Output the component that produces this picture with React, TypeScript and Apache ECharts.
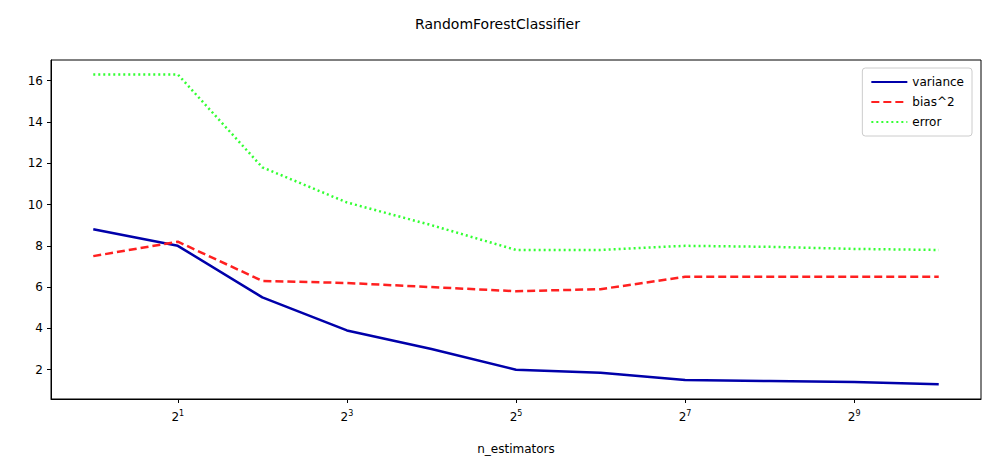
import React, { useEffect, useRef } from 'react';
import * as echarts from 'echarts';

const exponents = [0, 1, 2, 3, 4, 5, 6, 7, 8, 9, 10];
const variance = [8.8, 8.0, 5.5, 3.9, 3.0, 2.0, 1.85, 1.5, 1.45, 1.4, 1.3];
const bias2 = [7.5, 8.2, 6.3, 6.2, 6.0, 5.8, 5.9, 6.5, 6.5, 6.5, 6.5];
const errorVals = [16.3, 16.3, 11.8, 10.1, 9.0, 7.8, 7.8, 8.0, 7.95, 7.85, 7.8];
const xTicks = [1, 3, 5, 7, 9];
const yTicks = [2, 4, 6, 8, 10, 12, 14, 16];

const font = 'DejaVu Sans';

const App: React.FC = () => {
  const chartRef = useRef<HTMLDivElement>(null);

  useEffect(() => {
    if (!chartRef.current) return;
    const chart = echarts.init(chartRef.current, undefined, { renderer: 'svg' });

    const mk = (name: string, data: number[], color: string, type: any) => ({
      name,
      type: 'line',
      symbol: 'none',
      data: exponents.map((e, i) => [e, data[i]]),
      lineStyle: { color, width: 2.5, type },
      itemStyle: { color },
    });

    chart.setOption({
      animation: false,
      textStyle: { fontFamily: font },
      title: {
        text: 'RandomForestClassifier',
        left: 'center',
        top: 12,
        textStyle: { fontFamily: font, fontSize: 14, fontWeight: 'normal', color: '#000' },
      },
      legend: {
        orient: 'vertical',
        right: 23,
        top: 68,
        itemWidth: 36,
        itemGap: 8,
        padding: [8, 8, 8, 8],
        borderColor: '#ccc',
        borderWidth: 1,
        borderRadius: 3,
        itemStyle: { opacity: 0 },
        textStyle: { fontFamily: font, fontSize: 12, color: '#000' },
        data: ['variance', 'bias^2', 'error'],
      },
      grid: { left: 51, right: 14, top: 60, bottom: 77, show: true, borderColor: '#000', borderWidth: 1 },
      xAxis: {
        type: 'value',
        min: -0.5,
        max: 10.5,
        name: 'n_estimators',
        nameLocation: 'middle',
        nameGap: 44,
        nameTextStyle: { fontFamily: font, fontSize: 12, color: '#000' },
        axisLine: { onZero: false, lineStyle: { color: '#000' } },
        axisTick: { customValues: xTicks, length: 4, lineStyle: { color: '#000' } },
        splitLine: { show: false },
        axisLabel: {
          customValues: xTicks,
          margin: 10,
          formatter: (v: number) => `{b|2}{s|${v}}`,
          rich: {
            b: { fontFamily: font, fontSize: 12, color: '#000' },
            s: { fontFamily: font, fontSize: 8, color: '#000', verticalAlign: 'top', padding: [0, 0, 8, 0] },
          },
        },
      },
      yAxis: {
        type: 'value',
        min: 0.58,
        max: 17.0,
        axisLine: { show: true, onZero: false, lineStyle: { color: '#000' } },
        axisTick: { show: true, customValues: yTicks, length: 4, lineStyle: { color: '#000' } },
        splitLine: { show: false },
        axisLabel: { customValues: yTicks, fontFamily: font, fontSize: 12, color: '#000' },
      },
      series: [
        mk('variance', variance, '#0000aa', 'solid'),
        mk('bias^2', bias2, '#ff2020', [8, 4]),
        mk('error', errorVals, '#33ff33', [2, 3]),
      ],
    });

    return () => chart.dispose();
  }, []);

  return (
    <div
      ref={chartRef}
      style={{ position: 'fixed', left: 0, top: 0, width: 995, height: 476, background: '#fff' }}
    />
  );
};

export default App;
